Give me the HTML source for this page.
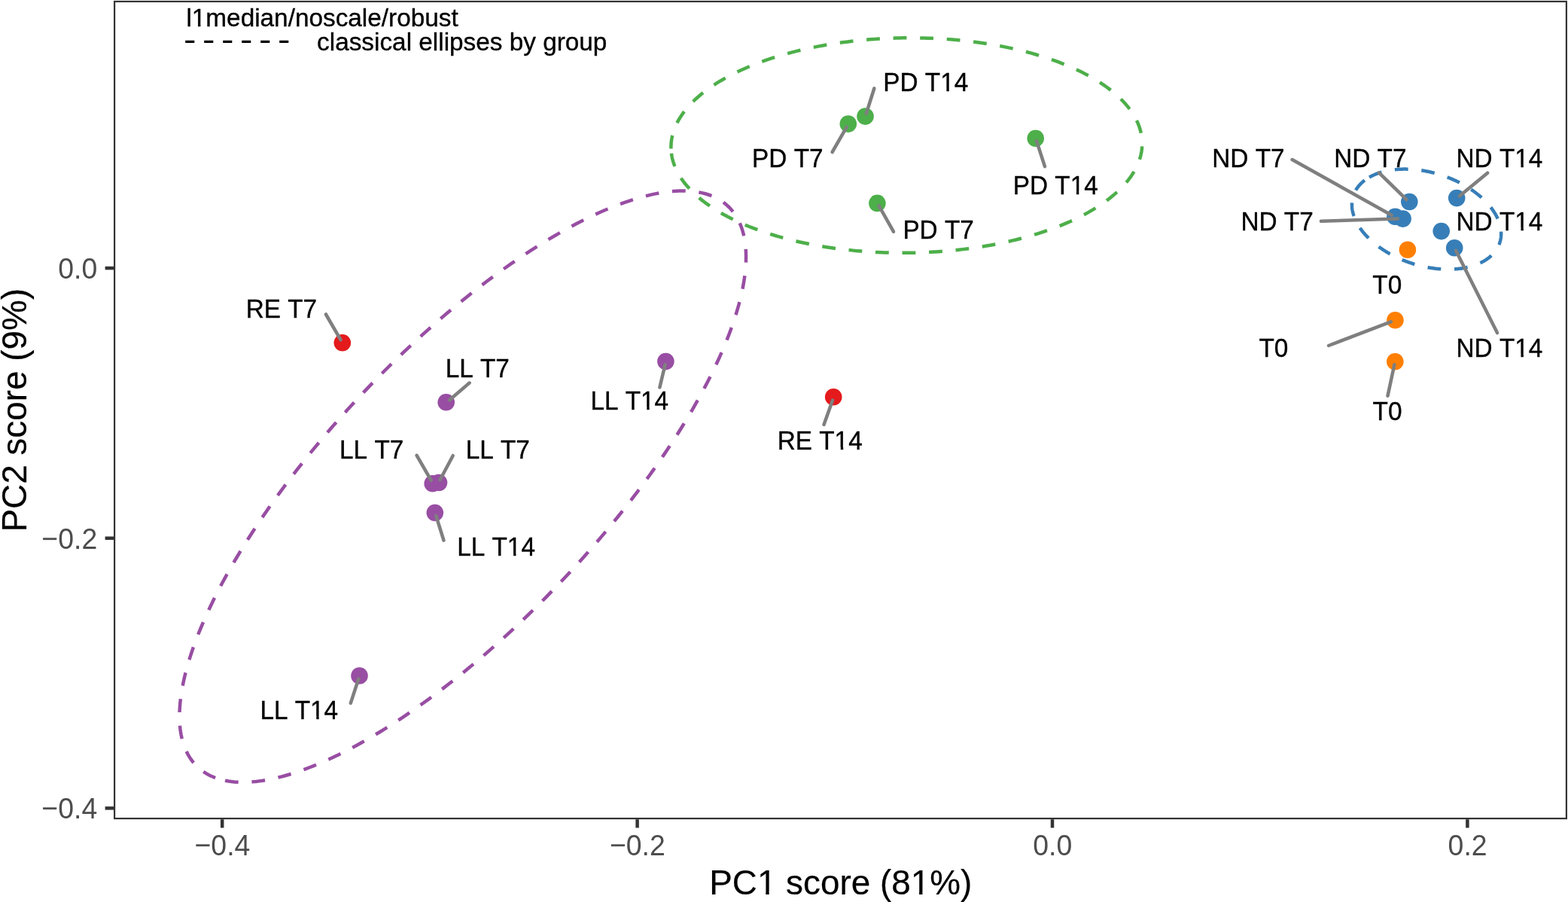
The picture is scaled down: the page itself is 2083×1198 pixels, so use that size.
<!DOCTYPE html>
<html lang="en">
<head>
<meta charset="utf-8">
<title>PCA score plot</title>
<style>
html,body{margin:0;padding:0;background:#fff;}
body{width:2083px;height:1198px;overflow:hidden;}
svg{display:block;}
text{font-family:"Liberation Sans", sans-serif;font-kerning:none;}
.lab{font-size:33.33px;fill:#000;stroke:#000;stroke-width:0.35px;}
.tick{font-size:36.67px;fill:#4D4D4D;}
.title{font-size:45.83px;fill:#000;stroke:#000;stroke-width:0.2px;}
</style>
</head>
<body>
<svg width="2083" height="1198" viewBox="0 0 2083 1198">
<rect x="0" y="0" width="2083" height="1198" fill="#fff"/>
<g fill="none" stroke-width="4.50" stroke-dasharray="17.78 17.78">
<path stroke="#4DAF4A" stroke-dashoffset="0.00" d="M891.44 197.51 L891.41 195.02 L891.47 192.53 L891.63 190.03 L891.89 187.54 L892.24 185.05 L892.69 182.57 L893.23 180.08 L893.86 177.60 L894.59 175.13 L895.42 172.66 L896.34 170.19 L897.35 167.74 L898.45 165.29 L899.65 162.85 L900.95 160.42 L902.33 158.00 L903.81 155.59 L905.38 153.19 L907.03 150.80 L908.78 148.43 L910.62 146.07 L912.55 143.72 L914.57 141.39 L916.68 139.07 L918.87 136.77 L921.15 134.49 L923.52 132.23 L925.97 129.98 L928.51 127.76 L931.13 125.55 L933.84 123.37 L936.62 121.20 L939.49 119.06 L942.44 116.94 L945.47 114.84 L948.58 112.77 L951.77 110.72 L955.03 108.70 L958.37 106.70 L961.78 104.73 L965.27 102.78 L968.83 100.87 L972.46 98.98 L976.17 97.12 L979.94 95.29 L983.78 93.48 L987.69 91.71 L991.66 89.97 L995.70 88.26 L999.80 86.59 L1003.97 84.94 L1008.19 83.33 L1012.48 81.75 L1016.82 80.21 L1021.22 78.70 L1025.68 77.23 L1030.19 75.79 L1034.75 74.38 L1039.37 73.01 L1044.04 71.68 L1048.75 70.39 L1053.51 69.13 L1058.32 67.91 L1063.18 66.73 L1068.07 65.59 L1073.01 64.49 L1077.99 63.42 L1083.00 62.40 L1088.05 61.41 L1093.14 60.47 L1098.26 59.56 L1103.42 58.70 L1108.60 57.88 L1113.82 57.09 L1119.06 56.35 L1124.33 55.66 L1129.62 55.00 L1134.94 54.38 L1140.27 53.81 L1145.63 53.28 L1151.00 52.79 L1156.39 52.35 L1161.80 51.95 L1167.21 51.59 L1172.64 51.27 L1178.08 51.00 L1183.53 50.77 L1188.98 50.58 L1194.44 50.44 L1199.90 50.34 L1205.36 50.29 L1210.82 50.27 L1216.28 50.31 L1221.74 50.38 L1227.19 50.50 L1232.63 50.66 L1238.07 50.86 L1243.49 51.11 L1248.90 51.40 L1254.30 51.74 L1259.69 52.12 L1265.05 52.54 L1270.40 53.00 L1275.73 53.51 L1281.04 54.06 L1286.32 54.65 L1291.58 55.28 L1296.81 55.96 L1302.02 56.67 L1307.19 57.43 L1312.33 58.23 L1317.44 59.07 L1322.52 59.95 L1327.56 60.88 L1332.56 61.84 L1337.52 62.84 L1342.44 63.88 L1347.32 64.96 L1352.16 66.08 L1356.95 67.24 L1361.70 68.44 L1366.39 69.68 L1371.04 70.95 L1375.64 72.26 L1380.18 73.61 L1384.68 74.99 L1389.11 76.41 L1393.49 77.87 L1397.81 79.36 L1402.08 80.88 L1406.28 82.44 L1410.42 84.03 L1414.50 85.66 L1418.52 87.32 L1422.47 89.01 L1426.35 90.73 L1430.17 92.48 L1433.91 94.27 L1437.59 96.08 L1441.20 97.93 L1444.73 99.80 L1448.19 101.70 L1451.58 103.63 L1454.89 105.58 L1458.12 107.57 L1461.28 109.58 L1464.36 111.61 L1467.36 113.67 L1470.28 115.75 L1473.12 117.86 L1475.88 119.99 L1478.55 122.14 L1481.14 124.32 L1483.65 126.51 L1486.07 128.73 L1488.40 130.96 L1490.65 133.21 L1492.81 135.49 L1494.89 137.78 L1496.87 140.08 L1498.77 142.40 L1500.58 144.74 L1502.29 147.09 L1503.92 149.46 L1505.45 151.84 L1506.90 154.23 L1508.25 156.64 L1509.50 159.05 L1510.67 161.48 L1511.74 163.91 L1512.72 166.36 L1513.60 168.81 L1514.39 171.27 L1515.09 173.74 L1515.69 176.21 L1516.20 178.68 L1516.61 181.17 L1516.92 183.65 L1517.14 186.14 L1517.27 188.63 L1517.30 191.12 L1517.23 193.61 L1517.07 196.11 L1516.82 198.60 L1516.47 201.09 L1516.02 203.57 L1515.48 206.06 L1514.84 208.54 L1514.11 211.01 L1513.29 213.48 L1512.37 215.95 L1511.36 218.40 L1510.25 220.85 L1509.05 223.29 L1507.76 225.72 L1506.38 228.14 L1504.90 230.55 L1503.33 232.95 L1501.67 235.34 L1499.92 237.71 L1498.08 240.07 L1496.15 242.42 L1494.13 244.75 L1492.03 247.07 L1489.83 249.37 L1487.55 251.65 L1485.19 253.91 L1482.73 256.16 L1480.20 258.38 L1477.57 260.59 L1474.87 262.77 L1472.08 264.94 L1469.21 267.08 L1466.26 269.20 L1463.23 271.30 L1460.13 273.37 L1456.94 275.42 L1453.68 277.44 L1450.34 279.44 L1446.92 281.41 L1443.44 283.36 L1439.88 285.27 L1436.24 287.16 L1432.54 289.02 L1428.77 290.85 L1424.93 292.66 L1421.02 294.43 L1417.05 296.17 L1413.01 297.88 L1408.90 299.55 L1404.74 301.20 L1400.51 302.81 L1396.23 304.39 L1391.88 305.93 L1387.48 307.44 L1383.03 308.91 L1378.52 310.35 L1373.95 311.76 L1369.34 313.13 L1364.67 314.46 L1359.95 315.75 L1355.19 317.01 L1350.38 318.23 L1345.53 319.41 L1340.63 320.55 L1335.70 321.65 L1330.72 322.72 L1325.70 323.74 L1320.65 324.73 L1315.56 325.67 L1310.44 326.58 L1305.29 327.44 L1300.10 328.26 L1294.89 329.05 L1289.65 329.79 L1284.38 330.48 L1279.08 331.14 L1273.77 331.76 L1268.43 332.33 L1263.08 332.86 L1257.70 333.35 L1252.31 333.79 L1246.91 334.19 L1241.49 334.55 L1236.06 334.87 L1230.63 335.14 L1225.18 335.37 L1219.73 335.56 L1214.27 335.70 L1208.81 335.80 L1203.35 335.85 L1197.89 335.87 L1192.43 335.84 L1186.97 335.76 L1181.52 335.64 L1176.08 335.48 L1170.64 335.28 L1165.22 335.03 L1159.80 334.74 L1154.40 334.40 L1149.02 334.02 L1143.65 333.60 L1138.30 333.14 L1132.97 332.63 L1127.67 332.08 L1122.38 331.49 L1117.13 330.86 L1111.89 330.18 L1106.69 329.47 L1101.52 328.71 L1096.37 327.91 L1091.26 327.07 L1086.19 326.19 L1081.15 325.26 L1076.15 324.30 L1071.18 323.30 L1066.26 322.26 L1061.38 321.18 L1056.55 320.06 L1051.75 318.90 L1047.01 317.70 L1042.31 316.46 L1037.66 315.19 L1033.07 313.88 L1028.52 312.53 L1024.03 311.15 L1019.59 309.73 L1015.21 308.28 L1010.89 306.78 L1006.63 305.26 L1002.42 303.70 L998.28 302.11 L994.20 300.48 L990.19 298.82 L986.24 297.13 L982.36 295.41 L978.54 293.66 L974.79 291.87 L971.12 290.06 L967.51 288.22 L963.98 286.34 L960.51 284.44 L957.13 282.51 L953.82 280.56 L950.58 278.57 L947.43 276.56 L944.35 274.53 L941.35 272.47 L938.43 270.39 L935.59 268.28 L932.83 266.15 L930.16 264.00 L927.57 261.82 L925.06 259.63 L922.64 257.41 L920.30 255.18 L918.05 252.93 L915.89 250.65 L913.82 248.36 L911.83 246.06 L909.94 243.74 L908.13 241.40 L906.41 239.05 L904.79 236.68 L903.25 234.30 L901.81 231.91 L900.46 229.50 L899.20 227.09 L898.04 224.66 L896.96 222.23 L895.99 219.78 L895.10 217.33 L894.31 214.87 L893.62 212.40 L893.02 209.93 L892.51 207.46 L892.10 204.97 L891.78 202.49 L891.56 200.00 L891.44 197.51"/>
<path stroke="#984EA3" stroke-dashoffset="0.00" d="M286.10 1033.04 L282.96 1031.80 L279.91 1030.44 L276.96 1028.97 L274.12 1027.38 L271.38 1025.67 L268.75 1023.85 L266.22 1021.91 L263.79 1019.86 L261.48 1017.69 L259.27 1015.41 L257.17 1013.02 L255.18 1010.52 L253.30 1007.90 L251.53 1005.18 L249.86 1002.35 L248.31 999.40 L246.88 996.35 L245.55 993.20 L244.34 989.94 L243.24 986.57 L242.25 983.10 L241.37 979.53 L240.61 975.85 L239.97 972.08 L239.44 968.20 L239.02 964.23 L238.71 960.16 L238.53 955.99 L238.45 951.74 L238.49 947.38 L238.65 942.94 L238.92 938.40 L239.30 933.78 L239.80 929.07 L240.41 924.27 L241.14 919.39 L241.98 914.43 L242.93 909.38 L244.00 904.25 L245.18 899.05 L246.47 893.76 L247.88 888.41 L249.39 882.97 L251.02 877.47 L252.76 871.90 L254.61 866.25 L256.57 860.54 L258.63 854.77 L260.81 848.93 L263.09 843.03 L265.49 837.07 L267.98 831.05 L270.59 824.97 L273.29 818.84 L276.11 812.66 L279.02 806.43 L282.04 800.15 L285.16 793.82 L288.38 787.44 L291.70 781.03 L295.11 774.57 L298.63 768.07 L302.24 761.54 L305.94 754.97 L309.74 748.37 L313.64 741.74 L317.62 735.07 L321.70 728.38 L325.86 721.67 L330.11 714.93 L334.45 708.17 L338.88 701.40 L343.39 694.60 L347.98 687.79 L352.65 680.97 L357.40 674.14 L362.23 667.30 L367.14 660.45 L372.12 653.60 L377.18 646.75 L382.31 639.89 L387.51 633.04 L392.78 626.20 L398.12 619.35 L403.52 612.52 L408.99 605.70 L414.52 598.89 L420.11 592.09 L425.76 585.31 L431.46 578.55 L437.23 571.81 L443.05 565.09 L448.92 558.40 L454.84 551.73 L460.81 545.09 L466.82 538.49 L472.88 531.91 L478.99 525.37 L485.13 518.87 L491.32 512.41 L497.54 505.98 L503.80 499.60 L510.09 493.27 L516.42 486.98 L522.77 480.74 L529.15 474.55 L535.56 468.41 L541.99 462.32 L548.45 456.30 L554.92 450.33 L561.42 444.42 L567.92 438.57 L574.45 432.78 L580.98 427.06 L587.53 421.41 L594.08 415.82 L600.64 410.31 L607.21 404.86 L613.78 399.50 L620.34 394.20 L626.91 388.98 L633.47 383.84 L640.03 378.78 L646.58 373.81 L653.12 368.91 L659.64 364.10 L666.16 359.38 L672.66 354.74 L679.14 350.19 L685.60 345.73 L692.04 341.37 L698.45 337.09 L704.84 332.91 L711.20 328.83 L717.54 324.84 L723.84 320.95 L730.11 317.16 L736.34 313.47 L742.54 309.88 L748.70 306.39 L754.81 303.01 L760.89 299.73 L766.92 296.56 L772.90 293.49 L778.84 290.53 L784.72 287.68 L790.55 284.94 L796.33 282.31 L802.06 279.79 L807.73 277.38 L813.33 275.08 L818.88 272.90 L824.37 270.83 L829.79 268.87 L835.15 267.03 L840.44 265.31 L845.66 263.70 L850.81 262.21 L855.89 260.83 L860.89 259.57 L865.82 258.43 L870.68 257.41 L875.45 256.51 L880.15 255.72 L884.76 255.05 L889.30 254.51 L893.75 254.08 L898.11 253.77 L902.39 253.58 L906.58 253.51 L910.68 253.56 L914.69 253.73 L918.61 254.02 L922.44 254.43 L926.18 254.96 L929.81 255.61 L933.36 256.38 L936.80 257.26 L940.15 258.26 L943.40 259.39 L946.55 260.63 L949.60 261.98 L952.54 263.46 L955.39 265.05 L958.13 266.76 L960.76 268.58 L963.29 270.52 L965.71 272.57 L968.03 274.73 L970.24 277.01 L972.34 279.40 L974.33 281.91 L976.21 284.52 L977.98 287.25 L979.64 290.08 L981.19 293.02 L982.63 296.07 L983.96 299.23 L985.17 302.49 L986.27 305.86 L987.26 309.33 L988.13 312.90 L988.89 316.58 L989.54 320.35 L990.07 324.22 L990.49 328.20 L990.79 332.27 L990.98 336.43 L991.06 340.69 L991.01 345.04 L990.86 349.49 L990.59 354.02 L990.21 358.65 L989.71 363.36 L989.10 368.15 L988.37 373.04 L987.53 378.00 L986.57 383.05 L985.51 388.17 L984.33 393.38 L983.03 398.66 L981.63 404.02 L980.11 409.45 L978.49 414.96 L976.75 420.53 L974.90 426.17 L972.94 431.88 L970.87 437.66 L968.70 443.50 L966.41 449.40 L964.02 455.36 L961.52 461.38 L958.92 467.45 L956.21 473.58 L953.40 479.77 L950.48 486.00 L947.47 492.28 L944.35 498.61 L941.13 504.98 L937.81 511.40 L934.39 517.86 L930.88 524.35 L927.27 530.89 L923.56 537.46 L919.76 544.06 L915.87 550.69 L911.88 557.35 L907.81 564.04 L903.64 570.76 L899.39 577.49 L895.05 584.25 L890.63 591.03 L886.12 597.82 L881.53 604.63 L876.86 611.45 L872.10 618.29 L867.27 625.13 L862.37 631.97 L857.38 638.82 L852.33 645.68 L847.20 652.53 L842.00 659.38 L836.73 666.23 L831.39 673.07 L825.99 679.91 L820.52 686.73 L814.99 693.54 L809.40 700.34 L803.75 707.12 L798.04 713.88 L792.28 720.62 L786.46 727.34 L780.59 734.03 L774.67 740.70 L768.70 747.33 L762.68 753.94 L756.62 760.52 L750.52 767.05 L744.37 773.56 L738.19 780.02 L731.97 786.44 L725.71 792.82 L719.41 799.16 L713.09 805.45 L706.74 811.69 L700.35 817.88 L693.95 824.02 L687.51 830.10 L681.06 836.13 L674.58 842.10 L668.09 848.01 L661.58 853.86 L655.06 859.64 L648.52 865.36 L641.98 871.02 L635.42 876.60 L628.86 882.12 L622.30 887.56 L615.73 892.93 L609.16 898.23 L602.60 903.44 L596.03 908.58 L589.48 913.64 L582.93 918.62 L576.39 923.51 L569.86 928.33 L563.35 933.05 L556.85 937.69 L550.37 942.24 L543.91 946.69 L537.47 951.06 L531.05 955.33 L524.66 959.51 L518.30 963.60 L511.97 967.59 L505.67 971.48 L499.40 975.27 L493.16 978.96 L486.97 982.55 L480.81 986.03 L474.69 989.42 L468.62 992.69 L462.59 995.87 L456.61 998.93 L450.67 1001.89 L444.79 1004.74 L438.95 1007.49 L433.17 1010.12 L427.45 1012.64 L421.78 1015.05 L416.17 1017.34 L410.62 1019.53 L405.14 1021.60 L399.71 1023.55 L394.36 1025.39 L389.07 1027.12 L383.85 1028.73 L378.70 1030.22 L373.62 1031.60 L368.61 1032.85 L363.68 1033.99 L358.83 1035.02 L354.05 1035.92 L349.36 1036.71 L344.74 1037.37 L340.21 1037.92 L335.76 1038.35 L331.39 1038.65 L327.12 1038.84 L322.93 1038.91 L318.82 1038.86 L314.81 1038.69 L310.89 1038.40 L307.06 1037.99 L303.33 1037.47 L299.69 1036.82 L296.15 1036.05 L292.70 1035.17 L289.35 1034.16 L286.10 1033.04"/>
<path stroke="#377EB8" stroke-dashoffset="0.00" d="M1819.05 235.46 L1820.18 234.83 L1821.32 234.22 L1822.49 233.63 L1823.68 233.05 L1824.89 232.50 L1826.12 231.96 L1827.38 231.43 L1828.65 230.93 L1829.95 230.44 L1831.26 229.98 L1832.59 229.53 L1833.95 229.10 L1835.32 228.69 L1836.71 228.30 L1838.11 227.93 L1839.54 227.57 L1840.98 227.24 L1842.44 226.93 L1843.91 226.63 L1845.40 226.36 L1846.91 226.10 L1848.43 225.86 L1849.96 225.65 L1851.51 225.45 L1853.07 225.28 L1854.64 225.12 L1856.23 224.99 L1857.83 224.87 L1859.44 224.78 L1861.06 224.70 L1862.69 224.65 L1864.33 224.61 L1865.98 224.60 L1867.63 224.61 L1869.30 224.63 L1870.98 224.68 L1872.66 224.75 L1874.35 224.83 L1876.04 224.94 L1877.74 225.07 L1879.45 225.22 L1881.16 225.38 L1882.87 225.57 L1884.59 225.78 L1886.32 226.01 L1888.04 226.25 L1889.77 226.52 L1891.49 226.81 L1893.22 227.11 L1894.95 227.44 L1896.68 227.79 L1898.41 228.15 L1900.14 228.54 L1901.87 228.94 L1903.59 229.36 L1905.32 229.80 L1907.04 230.26 L1908.75 230.74 L1910.46 231.24 L1912.17 231.75 L1913.87 232.28 L1915.57 232.83 L1917.26 233.40 L1918.94 233.99 L1920.61 234.59 L1922.28 235.21 L1923.94 235.85 L1925.59 236.50 L1927.23 237.18 L1928.86 237.86 L1930.49 238.57 L1932.10 239.29 L1933.69 240.02 L1935.28 240.77 L1936.86 241.54 L1938.42 242.32 L1939.97 243.12 L1941.50 243.93 L1943.03 244.76 L1944.53 245.60 L1946.02 246.45 L1947.50 247.32 L1948.96 248.20 L1950.40 249.09 L1951.83 250.00 L1953.24 250.92 L1954.63 251.85 L1956.01 252.79 L1957.36 253.75 L1958.70 254.71 L1960.01 255.69 L1961.31 256.68 L1962.59 257.68 L1963.84 258.69 L1965.08 259.71 L1966.29 260.73 L1967.48 261.77 L1968.65 262.82 L1969.80 263.87 L1970.93 264.94 L1972.03 266.01 L1973.11 267.09 L1974.16 268.18 L1975.19 269.27 L1976.20 270.37 L1977.18 271.48 L1978.14 272.59 L1979.07 273.71 L1979.97 274.83 L1980.85 275.96 L1981.71 277.09 L1982.53 278.23 L1983.33 279.37 L1984.11 280.52 L1984.85 281.66 L1985.57 282.81 L1986.26 283.97 L1986.93 285.12 L1987.56 286.28 L1988.17 287.44 L1988.75 288.60 L1989.30 289.76 L1989.82 290.92 L1990.32 292.09 L1990.78 293.25 L1991.22 294.41 L1991.62 295.57 L1992.00 296.72 L1992.34 297.88 L1992.66 299.04 L1992.95 300.19 L1993.21 301.34 L1993.43 302.48 L1993.63 303.63 L1993.80 304.77 L1993.94 305.90 L1994.04 307.03 L1994.12 308.16 L1994.17 309.28 L1994.18 310.39 L1994.17 311.50 L1994.13 312.60 L1994.05 313.70 L1993.95 314.79 L1993.82 315.87 L1993.65 316.95 L1993.46 318.01 L1993.23 319.07 L1992.98 320.12 L1992.70 321.16 L1992.38 322.19 L1992.04 323.22 L1991.67 324.23 L1991.26 325.23 L1990.83 326.22 L1990.37 327.21 L1989.88 328.18 L1989.36 329.14 L1988.82 330.08 L1988.24 331.02 L1987.64 331.94 L1987.00 332.86 L1986.34 333.75 L1985.66 334.64 L1984.94 335.51 L1984.20 336.37 L1983.43 337.22 L1982.63 338.05 L1981.80 338.87 L1980.95 339.67 L1980.08 340.46 L1979.18 341.23 L1978.25 341.99 L1977.29 342.73 L1976.32 343.45 L1975.31 344.16 L1974.28 344.86 L1973.23 345.54 L1972.16 346.20 L1971.06 346.84 L1969.94 347.47 L1968.79 348.08 L1967.62 348.67 L1966.43 349.25 L1965.22 349.81 L1963.99 350.34 L1962.74 350.87 L1961.46 351.37 L1960.17 351.86 L1958.85 352.32 L1957.52 352.77 L1956.17 353.20 L1954.79 353.61 L1953.40 354.00 L1952.00 354.37 L1950.57 354.73 L1949.13 355.06 L1947.67 355.38 L1946.20 355.67 L1944.71 355.94 L1943.20 356.20 L1941.68 356.44 L1940.15 356.65 L1938.60 356.85 L1937.04 357.02 L1935.47 357.18 L1933.88 357.31 L1932.28 357.43 L1930.68 357.52 L1929.06 357.60 L1927.43 357.65 L1925.78 357.69 L1924.14 357.70 L1922.48 357.70 L1920.81 357.67 L1919.14 357.62 L1917.45 357.56 L1915.77 357.47 L1914.07 357.36 L1912.37 357.23 L1910.66 357.09 L1908.95 356.92 L1907.24 356.73 L1905.52 356.52 L1903.80 356.29 L1902.07 356.05 L1900.35 355.78 L1898.62 355.49 L1896.89 355.19 L1895.16 354.86 L1893.43 354.51 L1891.70 354.15 L1889.97 353.77 L1888.24 353.36 L1886.52 352.94 L1884.80 352.50 L1883.08 352.04 L1881.36 351.56 L1879.65 351.07 L1877.94 350.55 L1876.24 350.02 L1874.55 349.47 L1872.86 348.90 L1871.17 348.31 L1869.50 347.71 L1867.83 347.09 L1866.17 346.45 L1864.52 345.80 L1862.88 345.12 L1861.25 344.44 L1859.63 343.73 L1858.02 343.01 L1856.42 342.28 L1854.83 341.53 L1853.25 340.76 L1851.69 339.98 L1850.14 339.18 L1848.61 338.37 L1847.09 337.54 L1845.58 336.70 L1844.09 335.85 L1842.61 334.98 L1841.15 334.10 L1839.71 333.21 L1838.28 332.30 L1836.87 331.38 L1835.48 330.45 L1834.11 329.51 L1832.75 328.55 L1831.42 327.59 L1830.10 326.61 L1828.80 325.62 L1827.52 324.62 L1826.27 323.61 L1825.03 322.59 L1823.82 321.57 L1822.63 320.53 L1821.46 319.48 L1820.31 318.43 L1819.18 317.36 L1818.08 316.29 L1817.00 315.21 L1815.95 314.13 L1814.92 313.03 L1813.91 311.93 L1812.93 310.82 L1811.98 309.71 L1811.04 308.59 L1810.14 307.47 L1809.26 306.34 L1808.41 305.21 L1807.58 304.07 L1806.78 302.93 L1806.00 301.78 L1805.26 300.64 L1804.54 299.49 L1803.85 298.33 L1803.18 297.18 L1802.55 296.02 L1801.94 294.86 L1801.36 293.70 L1800.81 292.54 L1800.29 291.38 L1799.80 290.22 L1799.33 289.05 L1798.90 287.89 L1798.49 286.73 L1798.11 285.58 L1797.77 284.42 L1797.45 283.26 L1797.16 282.11 L1796.91 280.96 L1796.68 279.82 L1796.48 278.67 L1796.31 277.54 L1796.18 276.40 L1796.07 275.27 L1795.99 274.14 L1795.94 273.02 L1795.93 271.91 L1795.94 270.80 L1795.98 269.70 L1796.06 268.60 L1796.16 267.51 L1796.30 266.43 L1796.46 265.36 L1796.65 264.29 L1796.88 263.23 L1797.13 262.18 L1797.42 261.14 L1797.73 260.11 L1798.07 259.08 L1798.45 258.07 L1798.85 257.07 L1799.28 256.08 L1799.74 255.09 L1800.23 254.12 L1800.75 253.16 L1801.30 252.22 L1801.87 251.28 L1802.48 250.36 L1803.11 249.44 L1803.77 248.55 L1804.46 247.66 L1805.17 246.79 L1805.92 245.93 L1806.69 245.08 L1807.48 244.25 L1808.31 243.43 L1809.16 242.63 L1810.03 241.84 L1810.94 241.07 L1811.86 240.31 L1812.82 239.57 L1813.80 238.85 L1814.80 238.14 L1815.83 237.44 L1816.88 236.76 L1817.95 236.10 L1819.05 235.46"/>
</g>
<g fill="#4DAF4A">
<circle cx="1126.8" cy="164.6" r="11.3"/>
<circle cx="1149.5" cy="154.6" r="11.3"/>
<circle cx="1375.7" cy="183.8" r="11.3"/>
<circle cx="1165.4" cy="269.9" r="11.3"/>
</g>
<g fill="#377EB8">
<circle cx="1872.3" cy="268.0" r="11.3"/>
<circle cx="1935.2" cy="263.1" r="11.3"/>
<circle cx="1853.4" cy="287.8" r="11.3"/>
<circle cx="1863.6" cy="290.6" r="11.3"/>
<circle cx="1914.7" cy="307.1" r="11.3"/>
<circle cx="1932.2" cy="329.3" r="11.3"/>
</g>
<g fill="#FF7F00">
<circle cx="1869.9" cy="331.7" r="11.3"/>
<circle cx="1853.4" cy="425.2" r="11.3"/>
<circle cx="1853.3" cy="480.2" r="11.3"/>
</g>
<g fill="#E41A1C">
<circle cx="454.8" cy="455.3" r="11.3"/>
<circle cx="1107.2" cy="527.3" r="11.3"/>
</g>
<g fill="#984EA3">
<circle cx="884.4" cy="480.1" r="11.3"/>
<circle cx="592.7" cy="534.2" r="11.3"/>
<circle cx="574.7" cy="642.2" r="11.3"/>
<circle cx="583.0" cy="641.0" r="11.3"/>
<circle cx="577.8" cy="681.0" r="11.3"/>
<circle cx="477.5" cy="897.5" r="11.3"/>
</g>
<g stroke="#7F7F7F" stroke-width="4.55" stroke-linecap="round">
<line x1="1161.4" y1="117.3" x2="1150.7" y2="151.0"/>
<line x1="1105.6" y1="202.0" x2="1124.8" y2="168.6"/>
<line x1="1388.0" y1="221.1" x2="1376.9" y2="187.0"/>
<line x1="1187.0" y1="307.7" x2="1167.5" y2="273.2"/>
<line x1="1716.6" y1="212.1" x2="1848.6" y2="285.7"/>
<line x1="1754.9" y1="293.8" x2="1856.9" y2="290.5"/>
<line x1="1831.9" y1="229.4" x2="1868.5" y2="265.1"/>
<line x1="1976.1" y1="229.7" x2="1939.0" y2="260.3"/>
<line x1="1989.0" y1="442.1" x2="1934.0" y2="332.7"/>
<line x1="1765.1" y1="459.0" x2="1847.8" y2="427.3"/>
<line x1="1843.5" y1="525.7" x2="1852.4" y2="484.2"/>
<line x1="432.9" y1="417.5" x2="452.6" y2="451.4"/>
<line x1="623.6" y1="508.6" x2="597.2" y2="531.2"/>
<line x1="876.4" y1="514.5" x2="883.6" y2="484.2"/>
<line x1="1094.5" y1="563.9" x2="1106.0" y2="531.7"/>
<line x1="553.6" y1="604.8" x2="572.8" y2="638.1"/>
<line x1="601.7" y1="605.2" x2="584.6" y2="637.2"/>
<line x1="589.5" y1="717.7" x2="579.2" y2="684.9"/>
<line x1="465.8" y1="933.9" x2="476.3" y2="901.7"/>
</g>
<g class="lab">
<text transform="translate(1173.26 121.20) scale(1 1.030)">PD T14</text>
<text transform="translate(999.09 222.20) scale(1 1.030)">PD T7</text>
<text transform="translate(1345.79 257.50) scale(1 1.030)">PD T14</text>
<text transform="translate(1199.39 317.40) scale(1 1.030)">PD T7</text>
<text transform="translate(1610.29 222.00) scale(1 1.030)">ND T7</text>
<text transform="translate(1772.19 222.00) scale(1 1.030)">ND T7</text>
<text transform="translate(1934.49 222.00) scale(1 1.030)">ND T14</text>
<text transform="translate(1648.39 306.20) scale(1 1.030)">ND T7</text>
<text transform="translate(1934.49 305.80) scale(1 1.030)">ND T14</text>
<text transform="translate(1823.29 389.80) scale(1 1.030)">T0</text>
<text transform="translate(1672.49 473.70) scale(1 1.030)">T0</text>
<text transform="translate(1934.49 473.90) scale(1 1.030)">ND T14</text>
<text transform="translate(1823.59 557.50) scale(1 1.030)">T0</text>
<text transform="translate(326.69 421.90) scale(1 1.030)">RE T7</text>
<text transform="translate(591.69 501.00) scale(1 1.030)">LL T7</text>
<text transform="translate(784.39 544.00) scale(1 1.030)">LL T14</text>
<text transform="translate(1032.69 597.20) scale(1 1.030)">RE T14</text>
<text transform="translate(451.09 609.00) scale(1 1.030)">LL T7</text>
<text transform="translate(618.69 609.00) scale(1 1.030)">LL T7</text>
<text transform="translate(607.19 738.20) scale(1 1.030)">LL T14</text>
<text transform="translate(345.39 954.70) scale(1 1.030)">LL T14</text>
</g>
<g class="lab">
<text x="247.40" y="34.8">l1median/noscale/robust</text>
<text x="421.10" y="67.4">classical ellipses by group</text>
</g>
<g fill="#fff">
<rect x="1249.94" y="117.86" width="7.45" height="5.11"/>
<rect x="1260.78" y="117.86" width="7.54" height="5.11"/>
<rect x="1422.47" y="254.16" width="7.45" height="5.11"/>
<rect x="1433.31" y="254.16" width="7.54" height="5.11"/>
<rect x="2013.00" y="218.66" width="7.45" height="5.11"/>
<rect x="2023.85" y="218.66" width="7.54" height="5.11"/>
<rect x="2013.00" y="302.46" width="7.45" height="5.11"/>
<rect x="2023.85" y="302.46" width="7.54" height="5.11"/>
<rect x="2013.00" y="470.56" width="7.45" height="5.11"/>
<rect x="2023.85" y="470.56" width="7.54" height="5.11"/>
<rect x="851.84" y="540.66" width="7.45" height="5.11"/>
<rect x="862.68" y="540.66" width="7.54" height="5.11"/>
<rect x="1109.37" y="593.86" width="7.45" height="5.11"/>
<rect x="1120.21" y="593.86" width="7.54" height="5.11"/>
<rect x="674.64" y="734.86" width="7.45" height="5.11"/>
<rect x="685.48" y="734.86" width="7.54" height="5.11"/>
<rect x="412.84" y="951.36" width="7.45" height="5.11"/>
<rect x="423.68" y="951.36" width="7.54" height="5.11"/>
<rect x="255.56" y="31.54" width="7.45" height="5.04"/>
<rect x="266.41" y="31.54" width="7.54" height="5.04"/>
</g>
<line x1="246.2" y1="55.35" x2="384" y2="55.35" stroke="#000" stroke-width="3.2" stroke-dasharray="12.1 12.9"/>
<rect x="152.10" y="2.00" width="1928.80" height="1085.10" fill="none" stroke="#333333" stroke-width="2.20"/>
<g stroke="#333333" stroke-width="4.5">
<line x1="295.2" y1="1088.2" x2="295.2" y2="1099.5"/>
<line x1="846.6" y1="1088.2" x2="846.6" y2="1099.5"/>
<line x1="1398.0" y1="1088.2" x2="1398.0" y2="1099.5"/>
<line x1="1949.4" y1="1088.2" x2="1949.4" y2="1099.5"/>
<line x1="139.6" y1="356.1" x2="151.0" y2="356.1"/>
<line x1="139.6" y1="714.8" x2="151.0" y2="714.8"/>
<line x1="139.6" y1="1073.4" x2="151.0" y2="1073.4"/>
</g>
<g class="tick">
<text transform="translate(295.4 1135.6) scale(1.02 1.070)" text-anchor="middle">−0.4</text>
<text transform="translate(846.8 1135.6) scale(1.02 1.070)" text-anchor="middle">−0.2</text>
<text transform="translate(1398.2 1135.6) scale(1.02 1.070)" text-anchor="middle">0.0</text>
<text transform="translate(1949.6 1135.6) scale(1.02 1.070)" text-anchor="middle">0.2</text>
<text transform="translate(129.20 369.9) scale(1.02 1.070)" text-anchor="end">0.0</text>
<text transform="translate(129.20 728.5) scale(1.02 1.070)" text-anchor="end">−0.2</text>
<text transform="translate(129.20 1087.2) scale(1.02 1.070)" text-anchor="end">−0.4</text>
</g>
<g class="title">
<text x="942.23" y="1188.1">PC1 score (81%)</text>
<g fill="#fff" stroke="none">
<rect x="1007.60" y="1183.98" width="9.72" height="5.82"/>
<rect x="1021.67" y="1183.98" width="9.69" height="5.82"/>
<rect x="1211.38" y="1183.98" width="9.72" height="5.82"/>
<rect x="1225.44" y="1183.98" width="9.69" height="5.82"/>
</g>
<text transform="translate(35.3 544.8) rotate(-90)" text-anchor="middle">PC2 score (9%)</text>
</g>
</svg>
</body>
</html>
